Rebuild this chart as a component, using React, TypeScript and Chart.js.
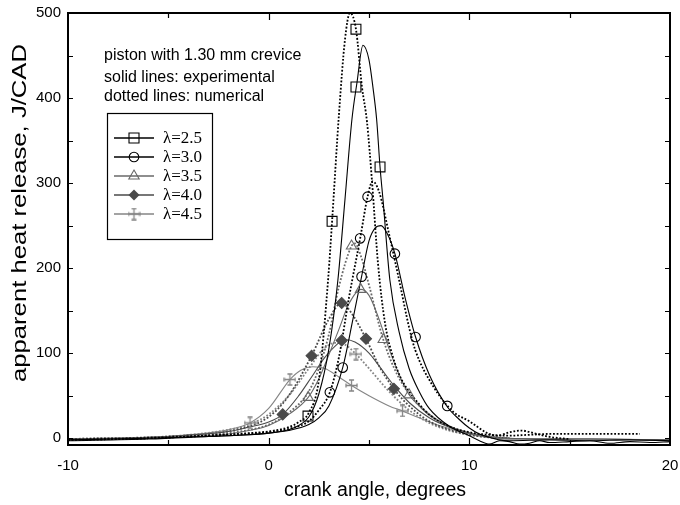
import React, { useEffect, useRef } from 'react';
import { Chart, registerables } from 'chart.js';

Chart.register(...registerables);

// ---------- data ----------
const xTickValues = [-10, 0, 10, 20];
const yTickValues = [0, 100, 200, 300, 400, 500];
const xInnerTicks = [-5, 0, 5, 10, 15];
const yInnerTicks = [0, 50, 100, 150, 200, 250, 300, 350, 400, 450];

const legendLabels = ['λ=2.5', 'λ=3.0', 'λ=3.5', 'λ=4.0', 'λ=4.5'];
const noteLines = ['piston with 1.30 mm crevice', 'solid lines: experimental', 'dotted lines: numerical'];
const xTitle = 'crank angle, degrees';
const yTitle = 'apparent heat release, J/CAD';

// λ=2.5
const l25ExpX = [-10, -6, -3, -1, 0, 1, 1.5, 2, 2.5, 3, 3.45, 3.8, 4.15, 4.4, 4.7, 5.0, 5.2, 5.38, 5.55, 5.7, 6.04, 6.5, 7, 7.5, 8, 9, 10, 10.5, 11, 11.5, 12, 12.5, 13, 13.5, 14, 15, 16, 17, 18, 19, 20];
const l25ExpY = [-3, -1, 2, 4, 6, 10, 15, 25, 52, 105, 186, 280, 375, 418, 462, 445, 412, 375, 319, 280, 186, 125, 82, 55, 35, 14, 3, -3, -7, -3, -4, -7, -6, -3, -5, -4, -3, -6, -4, -5, -4];
const l25NumX = [-10, -6, -3, -1, 0, 1, 1.5, 2, 2.5, 2.97, 3.16, 3.5, 3.8, 4.05, 4.35, 4.65, 4.9, 5.15, 5.45, 5.8, 6.2, 6.6, 7, 7.5, 8, 9, 10, 11, 12, 13, 14, 15, 16, 17, 18, 18.5];
const l25NumY = [-2, 0, 3, 6, 8, 13, 19, 30, 68, 189, 255, 380, 468, 500, 481, 413, 372, 302, 205, 135, 95, 70, 55, 40, 28, 14, 7, 4, 3, 4, 5, 5, 5, 5, 5, 5];
const l25MarkX = [1.96, 3.16, 4.35, 4.35, 5.55];
const l25MarkY = [26, 255, 413, 481, 319];

// λ=3.0
const l30ExpX = [-10, -6, -3, -1, 0, 1, 2, 2.5, 3, 3.69, 4.2, 4.63, 5.0, 5.3, 5.6, 5.9, 6.29, 6.8, 7.32, 8, 8.9, 9.5, 10, 10.5, 11, 11.5, 12, 14, 16, 18, 20];
const l30ExpY = [-2, 0, 2, 4, 6, 9, 16, 24, 38, 83, 140, 190, 232, 247, 250, 241, 217, 165, 119, 75, 37, 22, 12, 5, 1, -2, -3, -2, -3, -2, -3];
const l30NumX = [-10, -6, -3, -1, 0, 1, 2, 2.5, 3.05, 3.5, 4, 4.56, 4.93, 5.18, 5.5, 6, 6.5, 7, 7.3, 8.2, 9.2, 10, 10.9, 11.4, 12, 12.6, 13.2, 13.9, 14.5, 15];
const l30NumY = [-2, 0, 3, 5, 7, 11, 20, 33, 54, 95, 165, 235, 284, 302, 290, 240, 186, 130, 104, 61, 31, 20, 6, 3, 7, 9, 6, 2, 0, -1];
const l30MarkX = [3.05, 3.69, 4.56, 4.63, 4.93, 6.29, 7.32, 8.9];
const l30MarkY = [54, 83, 235, 190, 284, 217, 119, 38];

// λ=3.5
const l35ExpX = [-10, -5, -2, -1, 0, 1, 1.97, 2.5, 3, 3.5, 4, 4.6, 5, 5.5, 6, 6.5, 7, 7.5, 8, 9, 10, 11, 12, 16, 20];
const l35ExpY = [-1, 1, 5, 9, 15, 28, 48, 70, 98, 128, 158, 175, 168, 140, 105, 75, 51, 38, 27, 14, 6, 1, -1, -1, -2];
const l35NumX = [-10, -5, -2, 0, 1, 2, 2.5, 3, 3.5, 4.13, 4.3, 4.6, 5, 5.71, 6.3, 7, 8, 9, 10, 11, 12];
const l35NumY = [-1, 1, 6, 16, 30, 55, 82, 122, 178, 226, 229, 214, 180, 116, 80, 52, 28, 14, 6, 2, 0];
const l35MarkX = [1.97, 4.13, 4.58, 5.71, 7.0];
const l35MarkY = [48, 226, 175, 116, 51];

// λ=4.0
const l40ExpX = [-10, -5, -2, -1, 0, 0.7, 1.5, 2.14, 2.8, 3.3, 3.8, 4.3, 5, 5.5, 6.24, 7, 8, 9, 10, 11, 12, 16, 20];
const l40ExpY = [-1, 2, 8, 13, 19, 28, 50, 72, 95, 108, 116, 113, 100, 85, 62, 42, 24, 13, 6, 2, 0, -1, -2];
const l40NumX = [-10, -5, -2, 0, 1, 2.14, 3, 3.64, 4.1, 4.85, 5.5, 6.24, 7, 8, 9, 10, 11, 12];
const l40NumY = [-1, 2, 8, 25, 50, 97, 140, 159, 148, 117, 85, 58, 38, 20, 10, 4, 1, 0];
const l40MarkX = [0.7, 2.14, 3.64, 3.64, 4.85, 6.24];
const l40MarkY = [28, 97, 159, 115, 117, 58];

// λ=4.5
const l45ExpX = [-10, -6, -4, -2, -0.93, 0, 1.06, 1.6, 2.2, 2.8, 3.5, 4.13, 5, 6, 6.67, 7.5, 8.5, 10, 11, 12, 16, 20];
const l45ExpY = [-1, 1, 4, 10, 18, 35, 69, 80, 84, 82, 72, 62, 50, 38, 32, 24, 15, 5, 1, -1, -1, -2];
const l45NumX = [-10, -5, -2, -1, 0, 1, 2, 2.7, 3.3, 3.8, 4.35, 5, 6, 7, 8, 9, 10, 11, 12];
const l45NumY = [-1, 2, 10, 16, 28, 50, 82, 104, 112, 110, 99, 82, 55, 33, 18, 9, 4, 1, 0];
const l45MarkX = [-0.93, 1.06, 4.13, 4.35, 6.67];
const l45MarkY = [18, 69, 62, 99, 32];

// ---------- styling ----------
const SANS = '"Liberation Sans", Arial, Helvetica, sans-serif';
const SERIF = '"Liberation Serif", "Times New Roman", serif';
const colors = ['#000000', '#000000', '#686868', '#4a4a4a', '#858585'];
const markerKinds = ['rect', 'circle', 'triangle', 'rectRot', 'cross'];

const pts = (xs: number[], ys: number[]) => xs.map((x, i) => ({ x, y: ys[i] }));

function makeCrossCanvas(color: string) {
  const c = document.createElement('canvas');
  c.width = 13;
  c.height = 13;
  const g = c.getContext('2d') as CanvasRenderingContext2D;
  g.strokeStyle = color;
  g.lineWidth = 1.3;
  g.beginPath();
  g.moveTo(6.5, 1); g.lineTo(6.5, 12);
  g.moveTo(1, 6.5); g.lineTo(12, 6.5);
  g.moveTo(4, 1); g.lineTo(9, 1);
  g.moveTo(4, 12); g.lineTo(9, 12);
  g.moveTo(1, 4.5); g.lineTo(1, 8.5);
  g.moveTo(12, 4.5); g.lineTo(12, 8.5);
  g.stroke();
  return c;
}

function drawMarker(ctx: CanvasRenderingContext2D, kind: string, x: number, y: number, color: string, cross: HTMLCanvasElement) {
  ctx.save();
  ctx.strokeStyle = color;
  ctx.fillStyle = color;
  ctx.lineWidth = 1.1;
  ctx.beginPath();
  if (kind === 'rect') {
    ctx.rect(x - 5, y - 5, 10, 10);
    ctx.stroke();
  } else if (kind === 'circle') {
    ctx.arc(x, y, 4.8, 0, Math.PI * 2);
    ctx.stroke();
  } else if (kind === 'triangle') {
    ctx.moveTo(x, y - 6);
    ctx.lineTo(x + 5.2, y + 3);
    ctx.lineTo(x - 5.2, y + 3);
    ctx.closePath();
    ctx.stroke();
  } else if (kind === 'rectRot') {
    ctx.moveTo(x - 5.5, y);
    ctx.lineTo(x, y - 5.5);
    ctx.lineTo(x + 5.5, y);
    ctx.lineTo(x, y + 5.5);
    ctx.closePath();
    ctx.fill();
  } else {
    ctx.drawImage(cross, x - 6.5, y - 6.5);
  }
  ctx.restore();
}

export default function App() {
  const ref = useRef<HTMLCanvasElement | null>(null);

  useEffect(() => {
    document.body.style.margin = '0';
    const canvas = ref.current;
    if (!canvas) return;
    const cross = makeCrossCanvas(colors[4]);

    const series = [
      { exp: pts(l25ExpX, l25ExpY), num: pts(l25NumX, l25NumY), mark: pts(l25MarkX, l25MarkY) },
      { exp: pts(l30ExpX, l30ExpY), num: pts(l30NumX, l30NumY), mark: pts(l30MarkX, l30MarkY) },
      { exp: pts(l35ExpX, l35ExpY), num: pts(l35NumX, l35NumY), mark: pts(l35MarkX, l35MarkY) },
      { exp: pts(l40ExpX, l40ExpY), num: pts(l40NumX, l40NumY), mark: pts(l40MarkX, l40MarkY) },
      { exp: pts(l45ExpX, l45ExpY), num: pts(l45NumX, l45NumY), mark: pts(l45MarkX, l45MarkY) },
    ];

    const markerSets: any[] = [];
    const lineSets: any[] = [];
    series.forEach((s, i) => {
      const color = colors[i];
      const kind = markerKinds[i];
      const radius = kind === 'rect' ? 7 : kind === 'circle' ? 4.8 : kind === 'triangle' ? 6 : kind === 'rectRot' ? 5.5 : 6.5;
      markerSets.push({
        label: legendLabels[i] + ' markers',
        data: s.mark,
        showLine: false,
        pointStyle: kind === 'cross' ? cross : kind,
        pointRadius: radius,
        pointBorderColor: color,
        pointBackgroundColor: kind === 'rectRot' ? color : 'rgba(0,0,0,0)',
        pointBorderWidth: 1.1,
      });
      lineSets.push({
        label: legendLabels[i] + ' experimental',
        data: s.exp,
        borderColor: color,
        borderWidth: 1.1,
        pointRadius: 0,
        cubicInterpolationMode: 'monotone',
      });
      lineSets.push({
        label: legendLabels[i] + ' numerical',
        data: s.num,
        borderColor: color,
        borderWidth: 1.8,
        borderDash: [1.8, 1.8],
        pointRadius: 0,
        cubicInterpolationMode: 'monotone',
      });
    });

    const framePlugin = {
      id: 'frame',
      afterDraw(chart: any) {
        const { ctx, chartArea: a, scales } = chart;
        const xs = scales.x;
        const ys = scales.y;
        ctx.save();
        ctx.strokeStyle = '#000';
        ctx.lineWidth = 1.2;
        ctx.beginPath();
        xInnerTicks.forEach((v) => {
          const px = Math.round(xs.getPixelForValue(v)) + 0.5;
          const len = v % 10 === 0 ? 7 : 5;
          ctx.moveTo(px, a.bottom); ctx.lineTo(px, a.bottom - len);
          ctx.moveTo(px, a.top); ctx.lineTo(px, a.top + len);
        });
        yInnerTicks.forEach((v) => {
          const py = Math.round(ys.getPixelForValue(v)) + 0.5;
          ctx.moveTo(a.left, py); ctx.lineTo(a.left + 5, py);
          ctx.moveTo(a.right, py); ctx.lineTo(a.right - 5, py);
        });
        ctx.stroke();
        ctx.lineWidth = 2;
        ctx.strokeRect(a.left, a.top, a.right - a.left, a.bottom - a.top);

        // axis titles
        ctx.fillStyle = '#000';
        ctx.font = '19.5px ' + SANS;
        ctx.textAlign = 'center';
        ctx.textBaseline = 'middle';
        ctx.fillText(xTitle, 375, 491);
        const w = ctx.measureText(yTitle).width;
        const stretch = 338 / w;
        ctx.save();
        ctx.translate(21, 213);
        ctx.rotate(-Math.PI / 2);
        ctx.scale(stretch, 1);
        ctx.fillText(yTitle, 0, 0);
        ctx.restore();

        // notes
        ctx.fillStyle = '#000';
        ctx.font = '16px ' + SANS;
        ctx.textAlign = 'left';
        ctx.textBaseline = 'middle';
        const noteY = [56, 78, 97];
        noteLines.forEach((t, i) => ctx.fillText(t, 104, noteY[i]));

        // legend box
        const bx = 107, by = 113, bw = 105, bh = 126;
        ctx.fillStyle = '#fff';
        ctx.fillRect(bx, by, bw, bh);
        ctx.strokeStyle = '#000';
        ctx.lineWidth = 1.2;
        ctx.strokeRect(bx + 0.5, by + 0.5, bw, bh);
        const rowY = [138, 157, 176, 195, 214];
        legendLabels.forEach((lab, i) => {
          const y = rowY[i];
          ctx.strokeStyle = colors[i];
          ctx.lineWidth = i < 2 ? 1.6 : 1.3;
          ctx.beginPath();
          ctx.moveTo(114, y);
          ctx.lineTo(154, y);
          ctx.stroke();
          drawMarker(ctx, markerKinds[i], 134, y, colors[i], cross);
          ctx.fillStyle = '#000';
          ctx.font = '17px ' + SERIF;
          ctx.textAlign = 'left';
          ctx.textBaseline = 'middle';
          ctx.fillText(lab, 163, y + 1);
        });
        ctx.restore();
      },
    };

    const chart = new Chart(canvas, {
      type: 'line',
      data: { datasets: [...markerSets, ...lineSets] },
      options: {
        responsive: false,
        animation: false,
        devicePixelRatio: 1,
        events: [],
        layout: { padding: { top: 13, right: 10, left: 0, bottom: 0 } },
        plugins: { legend: { display: false }, tooltip: { enabled: false } },
        scales: {
          x: {
            type: 'linear',
            min: -10,
            max: 20,
            grid: { display: false, drawTicks: false },
            border: { display: false },
            afterBuildTicks: (s: any) => { s.ticks = xTickValues.map((v) => ({ value: v })); },
            afterFit: (s: any) => { s.height = 60; s.paddingLeft = 0; s.paddingRight = 0; },
            ticks: { font: { family: SANS, size: 15 }, color: '#000', padding: 12, maxRotation: 0, autoSkip: false },
            title: { display: false },
          },
          y: {
            type: 'linear',
            min: -8,
            max: 500,
            grid: { display: false, drawTicks: false },
            border: { display: false },
            afterBuildTicks: (s: any) => { s.ticks = yTickValues.map((v) => ({ value: v })); },
            afterFit: (s: any) => { s.width = 68; s.paddingTop = 0; s.paddingBottom = 0; },
            ticks: { font: { family: SANS, size: 15 }, color: '#000', padding: 7, autoSkip: false },
            title: { display: false },
          },
        },
      } as any,
      plugins: [framePlugin],
    });

    return () => chart.destroy();
  }, []);

  return <canvas ref={ref} width={680} height={505} style={{ display: 'block' }} />;
}
